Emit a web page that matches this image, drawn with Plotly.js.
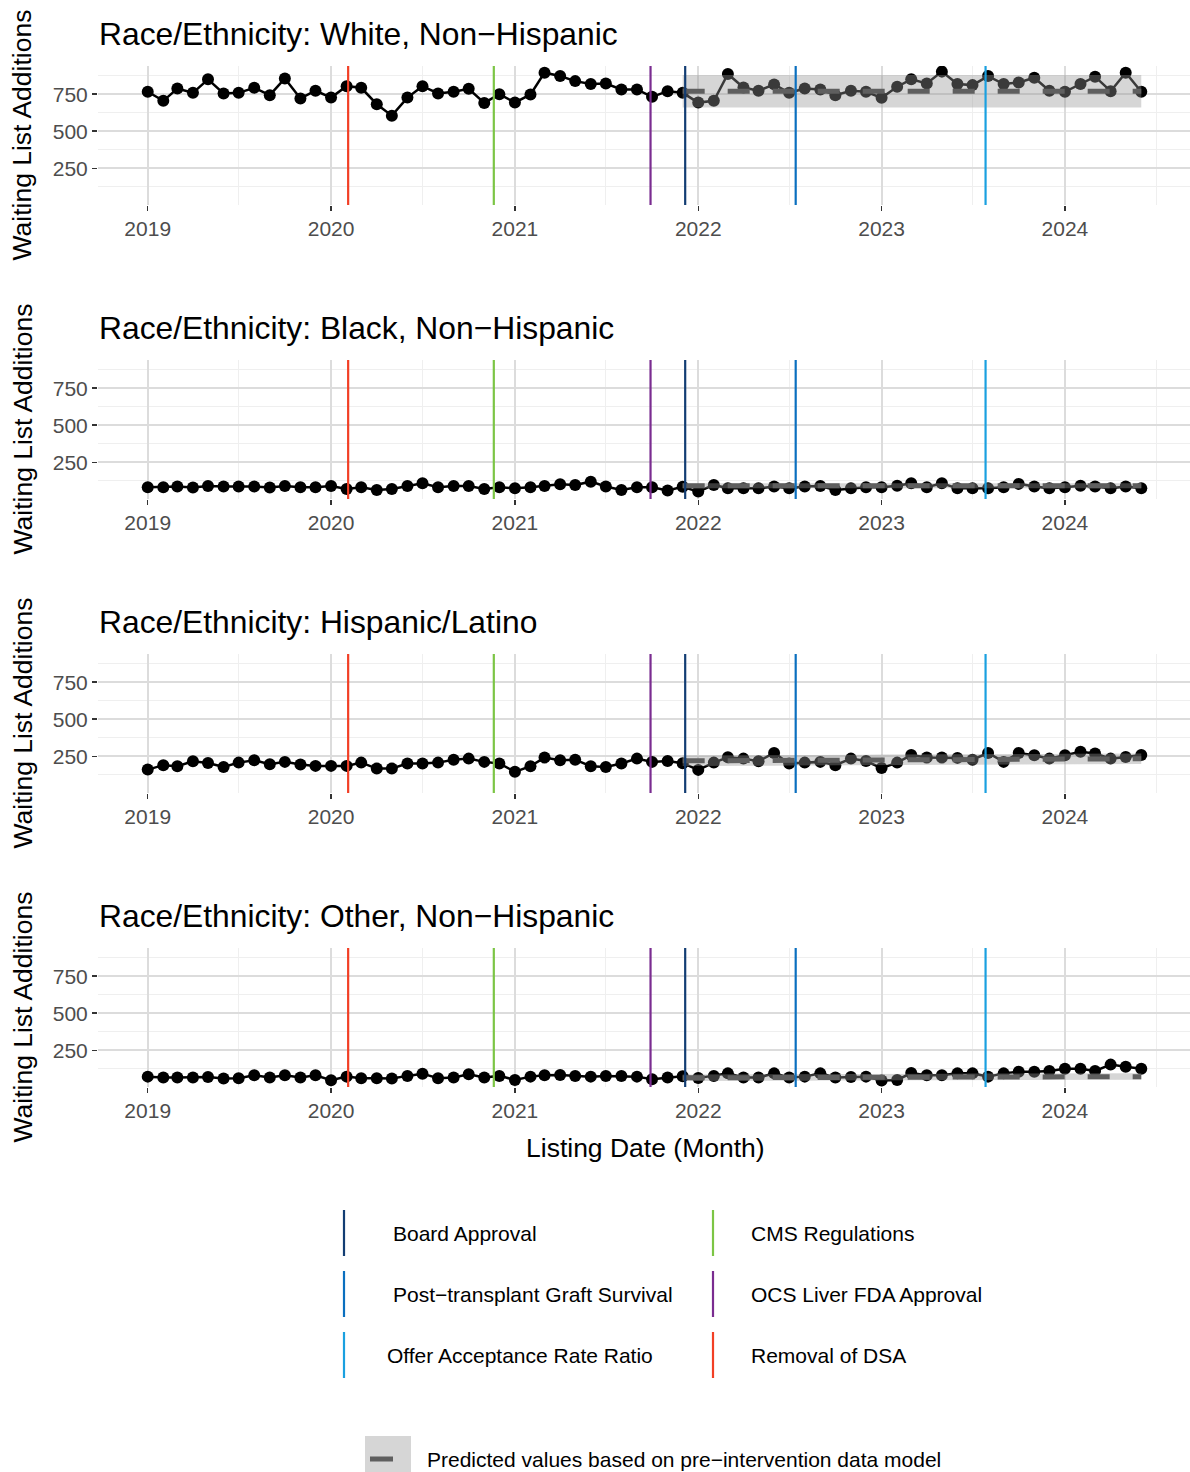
<!DOCTYPE html>
<html>
<head>
<meta charset="utf-8">
<script src="https://cdn.plot.ly/plotly-3.0.1.min.js"></script>
<style>html,body{margin:0;padding:0;background:#fff;}#chart{width:1190px;height:1472px;}</style>
</head>
<body>
<div id="chart"></div>
<script>
// ---------------- DATA ----------------
const months = [
 '2019-01','2019-02','2019-03','2019-04','2019-05','2019-06','2019-07','2019-08','2019-09','2019-10','2019-11','2019-12',
 '2020-01','2020-02','2020-03','2020-04','2020-05','2020-06','2020-07','2020-08','2020-09','2020-10','2020-11','2020-12',
 '2021-01','2021-02','2021-03','2021-04','2021-05','2021-06','2021-07','2021-08','2021-09','2021-10','2021-11','2021-12',
 '2022-01','2022-02','2022-03','2022-04','2022-05','2022-06','2022-07','2022-08','2022-09','2022-10','2022-11','2022-12',
 '2023-01','2023-02','2023-03','2023-04','2023-05','2023-06','2023-07','2023-08','2023-09','2023-10','2023-11','2023-12',
 '2024-01','2024-02','2024-03','2024-04','2024-05','2024-06'];

const panelTitles = [
 'Race/Ethnicity: White, Non\u2212Hispanic',
 'Race/Ethnicity: Black, Non\u2212Hispanic',
 'Race/Ethnicity: Hispanic/Latino',
 'Race/Ethnicity: Other, Non\u2212Hispanic'];

const whiteNH = [766,705,788,759,850,755,759,793,743,856,721,773,
 727,804,793,682,605,727,804,755,766,786,691,750,
 693,748,895,872,838,818,822,782,782,732,770,759,
 693,705,886,795,773,816,759,788,782,743,773,766,
 725,800,850,822,902,818,811,872,818,829,861,773,
 766,818,868,770,895,766];
const blackNH = [81,81,86,79,90,86,86,86,79,90,81,81,
 90,70,81,63,70,90,108,81,90,90,70,81,
 74,81,90,101,97,119,86,63,81,81,59,84,
 52,97,74,74,74,86,74,86,90,63,74,81,
 81,92,108,81,108,74,74,74,81,104,86,74,
 81,92,86,74,86,74];
const hispanic = [160,190,183,216,205,178,207,223,196,212,194,185,
 185,185,207,167,167,201,201,207,227,234,212,201,
 145,183,241,223,227,183,178,201,234,212,218,203,
 158,207,243,234,216,272,201,207,212,190,234,218,
 170,207,258,241,241,239,227,272,212,272,257,234,
 257,280,268,234,245,259];
const otherNH = [72,66,66,66,70,59,61,81,66,81,66,81,
 48,72,61,61,59,77,92,61,66,88,66,77,
 50,72,81,83,77,72,77,77,72,55,66,75,
 62,77,94,66,66,94,66,72,94,66,70,72,
 46,50,96,81,81,94,94,72,94,105,105,110,
 125,125,110,153,138,125];

// Post-intervention period: predicted values and interval
const postMonths = ['2021-12',
 '2022-01','2022-02','2022-03','2022-04','2022-05','2022-06','2022-07','2022-08','2022-09','2022-10','2022-11','2022-12',
 '2023-01','2023-02','2023-03','2023-04','2023-05','2023-06','2023-07','2023-08','2023-09','2023-10','2023-11','2023-12',
 '2024-01','2024-02','2024-03','2024-04','2024-05','2024-06'];
const predWhite = [770,770,770,770,770,770,770,770,770,770,770,770,770,770,770,770,770,770,770,770,770,770,770,770,770,770,770,770,770,770,770];
const loWhite   = [660,660,660,660,660,660,660,660,660,660,660,660,660,660,660,660,660,660,660,660,660,660,660,660,660,660,660,660,660,660,660];
const hiWhite   = [879,879,879,879,879,879,879,879,879,879,879,879,879,879,879,879,879,879,879,879,879,879,879,879,879,879,879,879,879,879,879];
const predBlack = [91,91,91,91,91,91,91,91,91,91,91,91,91,91,91,91,91,91,91,91,91,91,91,91,91,91,91,91,91,91,91];
const loBlack   = [75,75,75,75,75,75,75,75,75,75,75,75,75,75,75,75,75,75,75,75,75,75,75,75,75,75,75,75,75,75,75];
const hiBlack   = [108,108,108,108,108,108,108,108,108,108,108,108,108,108,108,108,108,108,108,108,108,108,108,108,108,108,108,108,108,108,108];
const predHisp  = [219,219,219,220,220,221,221,222,222,223,223,224,224,225,225,226,226,227,227,228,228,229,229,230,230,231,231,232,232,233,233];
const loHisp    = [184,184,184,185,185,186,186,187,187,188,188,189,189,190,190,191,191,192,192,193,193,194,194,195,195,196,196,197,197,198,198];
const hiHisp    = [255,255,255,256,256,257,257,258,258,259,259,260,260,261,261,262,262,263,263,264,264,265,265,266,266,267,267,268,268,269,269];
const predOther = [64,64,64,65,65,65,66,66,66,67,67,67,68,68,68,69,69,69,69,70,70,70,70,71,71,71,71,72,72,72,72];
const loOther   = [43,43,43,44,44,44,45,45,45,46,46,46,47,47,47,48,48,48,48,49,49,49,49,50,50,50,50,51,51,51,51];
const hiOther   = [87,87,87,88,88,88,89,89,89,90,90,90,91,91,91,92,92,92,92,93,93,93,93,94,94,94,94,95,95,95,95];

const interventionNames  = ['Board Approval','CMS Regulations','Post\u2212transplant Graft Survival','OCS Liver FDA Approval','Offer Acceptance Rate Ratio','Removal of DSA'];
const interventionDates  = ['2021-12-06','2020-11-20','2022-07-14','2021-09-28','2023-07-27','2020-02-04'];
const interventionColors = ['#123d73','#7cc545','#0a6fbf','#7a2c90','#1aa0e0','#f23f25'];

const predictedLabel = 'Predicted values based on pre\u2212intervention data model';
const yTickVals = [250,500,750];
const yMinorVals = [125,375,625,875];

// ---------------- LAYOUT HELPERS ----------------
const W = 1190, H = 1472, L = 98;
const px = x => (x - L) / (W - L);
const py = y => 1 - y / H;

const series = [whiteNH, blackNH, hispanic, otherNH];
const preds = [predWhite, predBlack, predHisp, predOther];
const los = [loWhite, loBlack, loHisp, loOther];
const his = [hiWhite, hiBlack, hiHisp, hiOther];

const FONT = 'Liberation Sans, Arial, Helvetica, sans-serif';
const traces = [];
const shapes = [];
const annotations = [];
const layout = {
  width: W, height: H,
  margin: {l: L, r: 0, t: 0, b: 0},
  paper_bgcolor: '#ffffff', plot_bgcolor: '#ffffff',
  font: {family: FONT, color: '#000'},
  showlegend: false,
  hovermode: false
};

for (let i = 0; i < 4; i++) {
  const k = i + 1;
  const xa = 'x' + (k === 1 ? '' : k), ya = 'y' + (k === 1 ? '' : k);
  const top = 66 + 294 * i, bot = 205 + 294 * i;

  layout['xaxis' + (k === 1 ? '' : k)] = {
    type: 'date', anchor: ya, domain: [0, 1],
    range: ['2018-09-24', '2024-09-06'],
    tickmode: 'linear', tick0: '2019-01-01', dtick: 'M12', tickformat: '%Y',
    ticks: 'outside', ticklen: 5, tickwidth: 1.5, tickcolor: '#333333',
    ticklabelstandoff: 0,
    tickfont: {family: FONT, size: 21, color: '#4d4d4d'},
    showgrid: true, gridcolor: '#dcdcdc', gridwidth: 2,
    minor: {tick0: '2019-01-01', dtick: 'M6', showgrid: true, gridcolor: '#efefef', gridwidth: 1, ticklen: 0},
    zeroline: false, showline: false
  };
  layout['yaxis' + (k === 1 ? '' : k)] = {
    anchor: xa, domain: [py(bot), py(top)],
    range: [2, 940],
    tickmode: 'array', tickvals: yTickVals,
    ticks: 'outside', ticklen: 5, tickwidth: 1.5, tickcolor: '#333333',
    tickfont: {family: FONT, size: 21, color: '#4d4d4d'},
    showgrid: true, gridcolor: '#dcdcdc', gridwidth: 2,
    minor: {tickmode: 'array', tickvals: yMinorVals, showgrid: true, gridcolor: '#efefef', gridwidth: 1, ticklen: 0},
    zeroline: false, showline: false
  };

  // observed series
  traces.push({
    x: months, y: series[i], xaxis: xa, yaxis: ya,
    type: 'scatter', mode: 'lines+markers',
    line: {color: '#000', width: 2.5},
    marker: {color: '#000', size: 12}
  });
  // prediction interval (semi-transparent, over points)
  traces.push({
    x: postMonths.concat(postMonths.slice().reverse()),
    y: his[i].concat(los[i].slice().reverse()),
    xaxis: xa, yaxis: ya, type: 'scatter', mode: 'lines',
    fill: 'toself', fillcolor: 'rgba(150,150,150,0.39)',
    line: {width: 0, color: 'rgba(0,0,0,0)'}
  });
  // predicted line
  traces.push({
    x: postMonths, y: preds[i], xaxis: xa, yaxis: ya,
    type: 'scatter', mode: 'lines',
    line: {color: '#5f5f5f', width: 5, dash: '22px,23px'}
  });

  // intervention lines
  for (let j = 0; j < interventionDates.length; j++) {
    shapes.push({
      type: 'line', layer: 'above', xref: xa, yref: ya + ' domain',
      x0: interventionDates[j], x1: interventionDates[j], y0: 0, y1: 1,
      line: {color: interventionColors[j], width: 2.2}
    });
  }

  // panel title
  annotations.push({
    text: panelTitles[i], xref: 'paper', yref: 'paper',
    x: px(97), y: py(34 + 294 * i), xanchor: 'left', yanchor: 'middle',
    showarrow: false, font: {family: FONT, size: 31.8, color: '#000'}
  });
  // y axis title
  annotations.push({
    text: 'Waiting List Additions', xref: 'paper', yref: 'paper',
    x: px(22), y: py((top + bot) / 2), xanchor: 'center', yanchor: 'middle',
    textangle: -90, showarrow: false, font: {family: FONT, size: 26.5, color: '#000'}
  });
}

// x axis title
annotations.push({
  text: 'Listing Date (Month)', xref: 'paper', yref: 'paper',
  x: px(645), y: py(1148), xanchor: 'center', yanchor: 'middle',
  showarrow: false, font: {family: FONT, size: 26.5, color: '#000'}
});

// legend for intervention lines (two columns, three rows)
const legendOrder = [0, 2, 4, 1, 3, 5];
const colX = [344, 713];
const txtX = [[391, 391, 385], [749, 749, 749]];
const rowY = [1233, 1294, 1355];
legendOrder.forEach((idx, n) => {
  const c = Math.floor(n / 3), r = n % 3;
  shapes.push({
    type: 'line', xref: 'paper', yref: 'paper',
    x0: px(colX[c]), x1: px(colX[c]), y0: py(rowY[r] - 23), y1: py(rowY[r] + 23),
    line: {color: interventionColors[idx], width: 2.2}
  });
  annotations.push({
    text: interventionNames[idx], xref: 'paper', yref: 'paper',
    x: px(txtX[c][r]), y: py(rowY[r]), xanchor: 'left', yanchor: 'middle',
    showarrow: false, font: {family: FONT, size: 21, color: '#000'}
  });
});

// legend for predicted values
shapes.push({
  type: 'rect', xref: 'paper', yref: 'paper',
  x0: px(365), x1: px(411), y0: py(1482), y1: py(1436),
  fillcolor: '#d6d6d6', line: {width: 0}
});
shapes.push({
  type: 'line', xref: 'paper', yref: 'paper',
  x0: px(370), x1: px(393), y0: py(1459), y1: py(1459),
  line: {color: '#5f5f5f', width: 5}
});
annotations.push({
  text: predictedLabel, xref: 'paper', yref: 'paper',
  x: px(425), y: py(1459), xanchor: 'left', yanchor: 'middle',
  showarrow: false, font: {family: FONT, size: 21, color: '#000'}
});

layout.shapes = shapes;
layout.annotations = annotations;

Plotly.newPlot('chart', traces, layout, {displayModeBar: false, staticPlot: true});
</script>
</body>
</html>
